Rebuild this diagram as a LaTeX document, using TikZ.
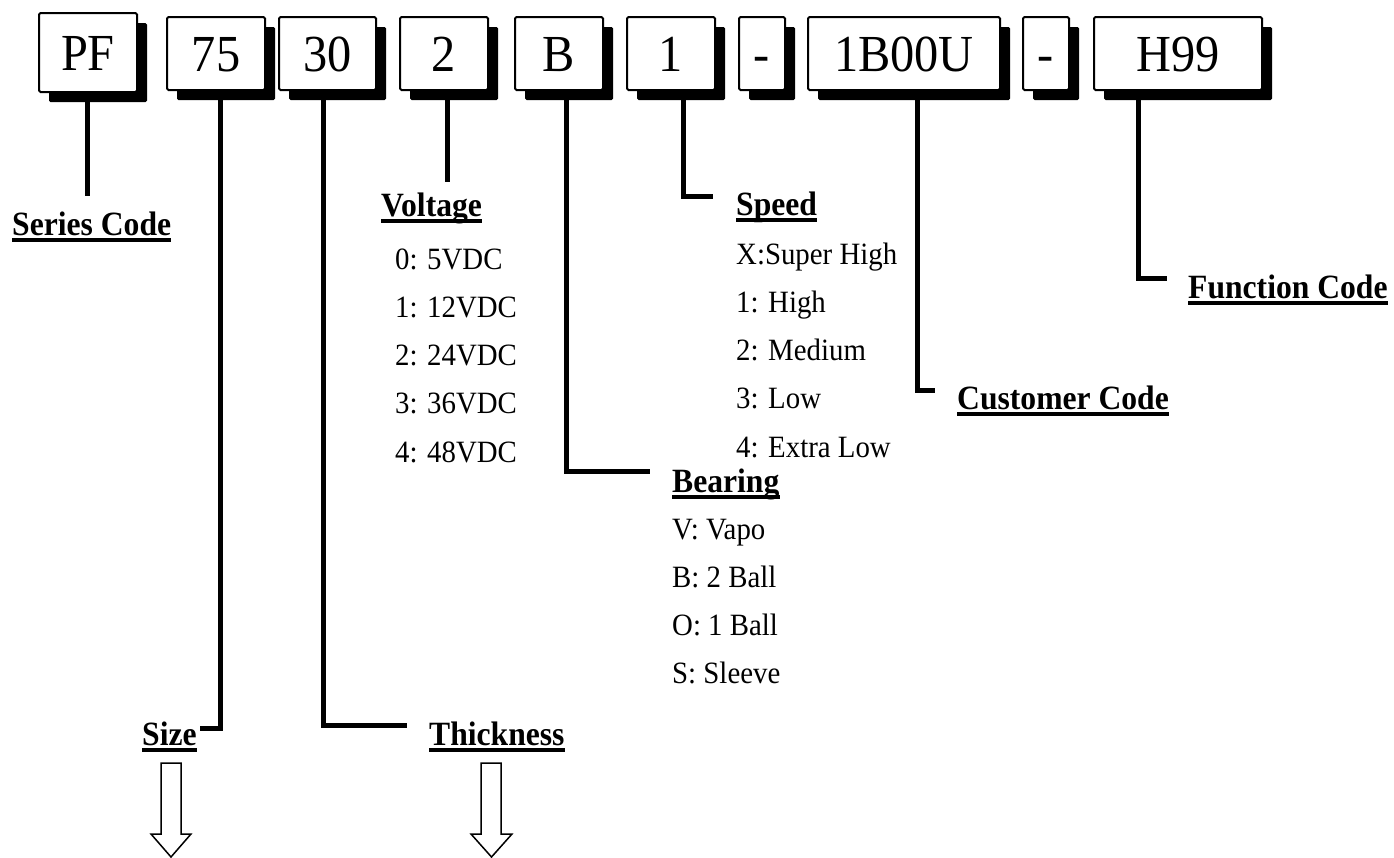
\documentclass[tikz,border=0pt]{standalone}
\usepackage{fontspec}
\setmainfont[FakeStretch=0.93]{Liberation Serif}
\usetikzlibrary{shadows}
\begin{document}
\begin{tikzpicture}[x=1pt,y=-1pt,
  codebox/.style={draw, line width=2pt, fill=white, rounded corners=1.5pt, inner sep=0pt,
    text height=35pt, text depth=0pt, font=\fontsize{52}{52}\selectfont,
    minimum height=73pt,
    drop shadow={shadow xshift=10pt, shadow yshift=-10pt, fill=black, opacity=1}},
  conn/.style={line width=5pt},
  lbl/.style={anchor=base west, inner sep=0pt, font=\fontsize{34}{34}\selectfont\bfseries},
  item/.style={anchor=base west, inner sep=0pt, font=\fontsize{31}{31}\selectfont},
  ul/.style={line width=3.5pt},
  hollow/.style={draw, line width=1.5pt, fill=white}]
\useasboundingbox (0,0) rectangle (1394,857);

% code boxes
\node[codebox, minimum width=98pt, minimum height=79pt] (pf) at (88,52.5) {PF};
\node[codebox, minimum width=98pt] (b75) at (216,53.5) {75};
\node[codebox, minimum width=97pt] (b30) at (327.5,53.5) {30};
\node[codebox, minimum width=88pt] (b2) at (444,53.5) {2};
\node[codebox, minimum width=88pt] (bB) at (559,53.5) {B};
\node[codebox, minimum width=88pt] (b1) at (671,53.5) {1};
\node[codebox, minimum width=46pt] (d1) at (762,53.5) {-};
\node[codebox, minimum width=192pt] (bcust) at (904,53.5) {1B00U};
\node[codebox, minimum width=46pt] (d2) at (1046,53.5) {-};
\node[codebox, minimum width=168pt] (bh) at (1178,53.5) {H99};

% end points of connectors
\coordinate (seriesend) at (87,196);
\coordinate (voltend) at (447,182);
\coordinate (speedend) at (713,196);
\coordinate (bearend) at (650,471);
\coordinate (custend) at (935,390);
\coordinate (funcend) at (1167,278);
\coordinate (sizeend) at (200,728);
\coordinate (thickend) at (407,725);

% connectors
\draw[conn] ([xshift=-1pt]pf.south) -- (seriesend);
\draw[conn] ([xshift=3pt]b2.south) -- (voltend);
\draw[conn] ([xshift=12pt]b1.south) |- (speedend);
\draw[conn] ([xshift=7pt]bB.south) |- (bearend);
\draw[conn] ([xshift=13.5pt]bcust.south) |- (custend);
\draw[conn] ([xshift=-40pt]bh.south) |- (funcend);
\draw[conn] ([xshift=4pt]b75.south) |- (sizeend);
\draw[conn] ([xshift=-4.5pt]b30.south) |- (thickend);

% labels
\node[lbl] (series) at (12,235) {Series Code};
\node[lbl] (volt) at (381,216) {Voltage};
\node[lbl] (speed) at (736,215) {Speed};
\node[lbl] (bear) at (672,492) {Bearing};
\node[lbl] (cust) at (957,409) {Customer Code};
\node[lbl] (func) at (1188,298) {Function Code};
\node[lbl] (size) at (142,745) {Size};
\node[lbl] (thick) at (429,745) {Thickness};
\foreach \n in {series,volt,speed,bear,cust,func,size,thick}
  \draw[ul] ([yshift=-5pt]\n.base west) -- ([yshift=-5pt]\n.base east);

% items
\foreach \t [count=\i from 0] in {0: 5VDC,1: 12VDC,2: 24VDC,3: 36VDC,4: 48VDC}
  \node[item] (v\i) at (395,269+48.25*\i) {\t};
\foreach \t [count=\i from 0] in {X:Super High,1: High,2: Medium,3: Low,4: Extra Low}
  \node[item] (s\i) at (736,264+48.25*\i) {\t};
\foreach \t [count=\i from 0] in {V: Vapo,B: 2 Ball,O: 1 Ball,S: Sleeve}
  \node[item] (r\i) at (672,539+48.3*\i) {\t};

% hollow arrows
\draw[hollow] (161,763) -- (181,763) -- (181,834) -- (191,834) -- (171,857) -- (151,834) -- (161,834) -- cycle;
\draw[hollow] (481,763) -- (501,763) -- (501,834) -- (512,834) -- (491.5,857) -- (471,834) -- (481,834) -- cycle;
\end{tikzpicture}
\end{document}
